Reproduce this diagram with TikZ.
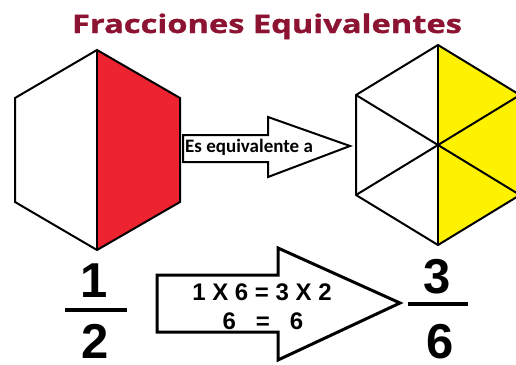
\documentclass[tikz,border=0pt]{standalone}
\usepackage{fontspec}
\setmainfont{Liberation Sans}
\newfontfamily\titlefont[FakeStretch=1.28,FakeBold=1.2]{Open Sans}
\newfontfamily\labelfont{Carlito}
\definecolor{titlered}{RGB}{140,20,50}
\definecolor{hexred}{RGB}{237,36,48}
\definecolor{hexyellow}{RGB}{255,242,0}
\begin{document}
\begin{tikzpicture}[x=1pt,y=-1pt,
  edge/.style={line width=2pt, line join=miter},
  digit/.style={font=\bfseries\fontsize{49}{49}\selectfont, inner sep=0pt}]
\useasboundingbox (0,0) rectangle (516,364);
\clip (0,0) rectangle (516,364);

% Title
\node[anchor=base, text=titlered, font=\titlefont\bfseries\fontsize{25.5}{25.5}\selectfont] (title) at (267,33) {Fracciones Equivalentes};

% Hexagon 1/2
\fill[hexred] (97,50) -- (180,98) -- (180,202) -- (97,250) -- cycle;
\draw[edge] (97,50) -- (180,98) -- (180,202) -- (97,250) -- (15,202) -- (15,98) -- cycle;
\draw[edge] (97,50) -- (97,250);

% Hexagon 3/6
\coordinate (c) at (438,145);
\fill[hexyellow] (438,45) -- (520,95) -- (520,195) -- (438,245) -- cycle;
\draw[edge] (438,45) -- (520,95) -- (520,195) -- (438,245) -- (356,195) -- (356,95) -- cycle;
\draw[edge] (438,45) -- (438,245);
\draw[edge] (356,95) -- (c) -- (520,195);
\draw[edge] (356,195) -- (c) -- (520,95);

% Arrow "Es equivalente a"
\draw[edge] (183,135) -- (268,135) -- (268,117) -- (350,146) -- (268,177) -- (268,162) -- (183,162) -- cycle;
\node[anchor=base west, inner sep=0pt, font=\labelfont\bfseries\fontsize{19}{19}\selectfont] (equiv) at (185,152) {Es equivalente a};

% Arrow with the products
\draw[line width=3pt, line join=miter] (157,275) -- (278,275) -- (278,248) -- (400,303) -- (278,360) -- (278,332) -- (157,332) -- cycle;
\node[anchor=base, inner sep=0pt, font=\bfseries\fontsize{24}{24}\selectfont] (prod) at (262,300) {1 X 6 = 3 X 2};
\node[anchor=base, inner sep=0pt, font=\bfseries\fontsize{24}{24}\selectfont] (res) at (263,329) {6\hspace{20pt}=\hspace{20pt}6};

% Fractions
\node[digit, anchor=base] (one) at (94,297) {1};
\draw[line width=3.5pt] (65,310) -- (127,310);
\node[digit, anchor=base] (two) at (95,358) {2};
\node[digit, anchor=base] (three) at (437,293) {3};
\draw[line width=3.5pt] (408,304) -- (468,304);
\node[digit, anchor=base] (six) at (440,358) {6};
\end{tikzpicture}
\end{document}
